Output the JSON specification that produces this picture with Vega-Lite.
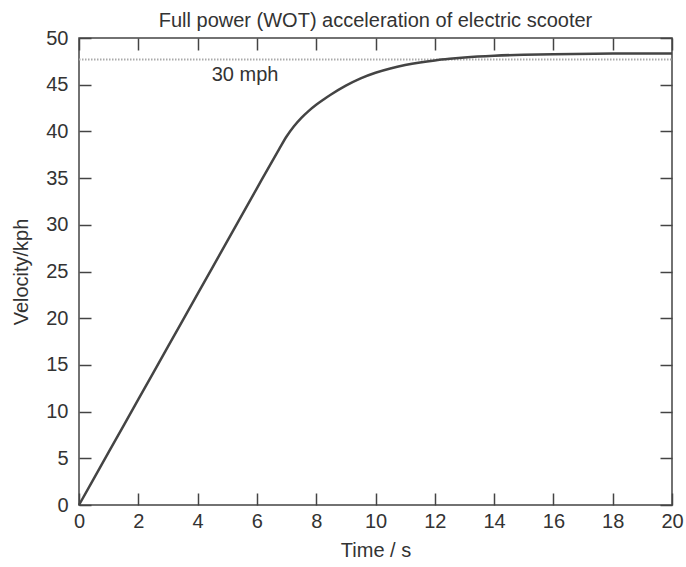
{
  "$schema": "https://vega.github.io/schema/vega-lite/v6.json",
  "autosize": "none",
  "width": 593,
  "height": 467,
  "padding": {"left": 79, "top": 38, "right": 14, "bottom": 62},
  "background": "white",
  "config": {
    "font": "Liberation Sans",
    "view": {"stroke": "#444", "strokeWidth": 1.5},
    "axis": {
      "grid": false,
      "domain": false,
      "tickColor": "#444",
      "tickWidth": 1.5,
      "labelFlush": false,
      "labelOverlap": false,
      "labelFont": "Liberation Sans",
      "labelFontSize": 20,
      "labelColor": "#333",
      "titleFont": "Liberation Sans",
      "titleFontSize": 20,
      "titleFontWeight": "normal",
      "titleColor": "#333"
    }
  },
  "title": {
    "text": "Full power (WOT) acceleration of electric scooter",
    "fontSize": 20,
    "fontWeight": "normal",
    "color": "#333",
    "font": "Liberation Sans",
    "anchor": "middle",
    "offset": -3
  },
  "datasets": {
    "curve": [
      {"t": 0, "v": 0},
      {"t": 1, "v": 5.65},
      {"t": 2, "v": 11.3},
      {"t": 3, "v": 16.95},
      {"t": 4, "v": 22.6},
      {"t": 5, "v": 28.25},
      {"t": 6, "v": 33.9},
      {"t": 6.5, "v": 36.72},
      {"t": 6.75, "v": 38.1},
      {"t": 7.0, "v": 39.45},
      {"t": 7.25, "v": 40.55},
      {"t": 7.5, "v": 41.45},
      {"t": 7.75, "v": 42.2},
      {"t": 8.0, "v": 42.85},
      {"t": 8.25, "v": 43.42},
      {"t": 8.5, "v": 43.95},
      {"t": 9.0, "v": 44.9},
      {"t": 9.5, "v": 45.68},
      {"t": 10.0, "v": 46.28},
      {"t": 10.5, "v": 46.74},
      {"t": 11.0, "v": 47.1},
      {"t": 11.5, "v": 47.38},
      {"t": 12.0, "v": 47.6},
      {"t": 12.5, "v": 47.77},
      {"t": 13.0, "v": 47.91},
      {"t": 14.0, "v": 48.1},
      {"t": 15.0, "v": 48.21},
      {"t": 16.0, "v": 48.27},
      {"t": 18.0, "v": 48.33},
      {"t": 20.0, "v": 48.35}
    ],
    "ref": [
      {"t": 0, "v": 47.7},
      {"t": 20, "v": 47.7}
    ],
    "label": [
      {"t": 5.6, "v": 46.0, "text": "30 mph"}
    ]
  },
  "layer": [
    {
      "data": {"name": "ref"},
      "mark": {"type": "line", "color": "#aaa", "strokeWidth": 1.8, "strokeDash": [1.5, 1.5]},
      "encoding": {
        "x": {"field": "t", "type": "quantitative", "scale": {"domain": [0, 20], "nice": false},
          "axis": {"orient": "bottom", "title": "Time / s", "values": [0,2,4,6,8,10,12,14,16,18,20], "tickSize": -12, "labelPadding": 18.5, "titlePadding": 9}},
        "y": {"field": "v", "type": "quantitative", "scale": {"domain": [0, 50], "nice": false},
          "axis": {"orient": "left", "title": "Velocity/kph", "values": [0,5,10,15,20,25,30,35,40,45,50], "tickSize": -12, "labelPadding": 23, "titlePadding": 14}}
      }
    },
    {
      "data": {"name": "curve"},
      "mark": {"type": "line", "color": "#444", "strokeWidth": 2.5, "interpolate": "monotone"},
      "encoding": {
        "x": {"field": "t", "type": "quantitative",
          "axis": {"orient": "top", "title": null, "labels": false, "values": [0,2,4,6,8,10,12,14,16,18,20], "tickSize": -12}},
        "y": {"field": "v", "type": "quantitative",
          "axis": {"orient": "right", "title": null, "labels": false, "values": [0,5,10,15,20,25,30,35,40,45,50], "tickSize": -12}}
      }
    },
    {
      "data": {"name": "label"},
      "mark": {"type": "text", "fontSize": 20, "color": "#333", "font": "Liberation Sans", "align": "center", "baseline": "middle"},
      "encoding": {
        "x": {"field": "t", "type": "quantitative", "axis": null},
        "y": {"field": "v", "type": "quantitative", "axis": null},
        "text": {"field": "text"}
      }
    }
  ],
  "resolve": {"scale": {"x": "shared", "y": "shared"}, "axis": {"x": "independent", "y": "independent"}}
}
